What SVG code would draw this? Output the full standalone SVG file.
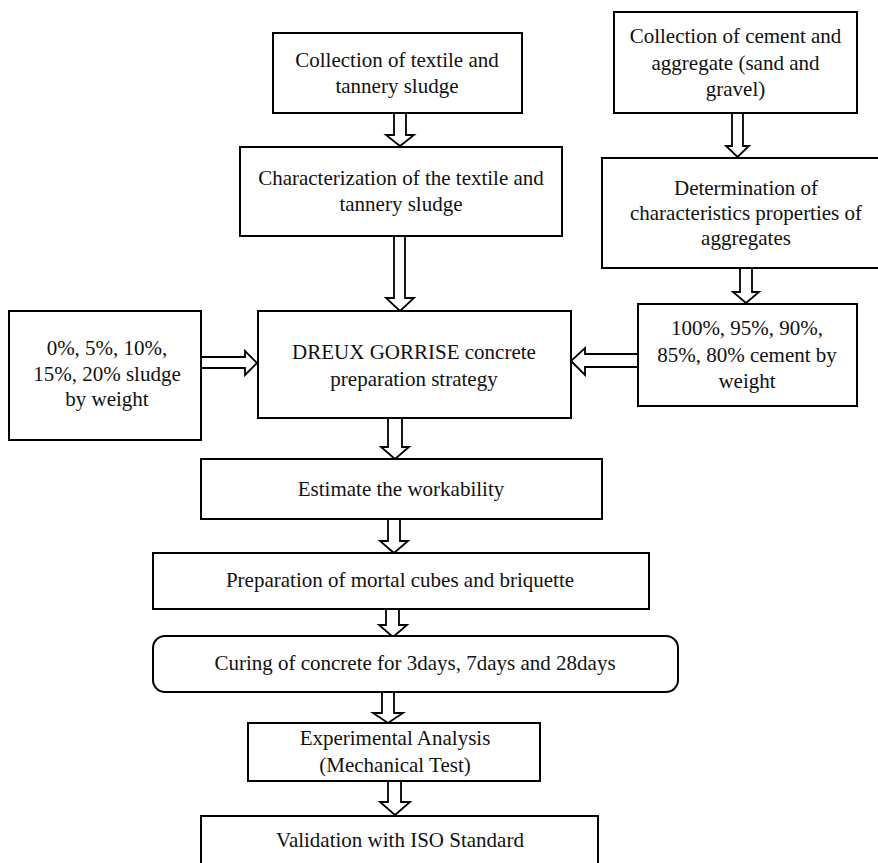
<svg xmlns="http://www.w3.org/2000/svg" width="878" height="863" viewBox="0 0 878 863">
<style>
  .box { fill: #fff; stroke: #000; stroke-width: 2; }
  .arr { fill: #fff; stroke: #000; stroke-width: 1.8; stroke-linejoin: miter; }
  text { font-family: "Liberation Serif", "Times New Roman", serif; font-size: 21px; fill: #111; text-anchor: middle; }
</style>
<rect x="0" y="0" width="878" height="863" fill="#fff"/>

<g id="connectors">
  <polygon class="arr" points="394,113 394,135 386,135 400,146 414,135 406,135 406,113"/>
  <polygon class="arr" points="732,113 732,146 726,146 737.5,157 749,146 743,146 743,113"/>
  <polygon class="arr" points="394,236 394,298 386,298 400,311 414,298 405,298 405,236"/>
  <polygon class="arr" points="740,268 740,292 733,292 746,303 759,292 752,292 752,268"/>
  <polygon class="arr" points="201,357 245,357 245,351 257,363 245,375 245,368 201,368"/>
  <polygon class="arr" points="638,354 585,354 585,348 571,361 585,375 585,367 638,367"/>
  <polygon class="arr" points="388,418 388,447 381,447 395,459 409,447 402,447 402,418"/>
  <polygon class="arr" points="388,519 388,541 380,541 394,553 408,541 400,541 400,519"/>
  <polygon class="arr" points="386,609 386,625 379,625 393,637 407,625 399,625 399,609"/>
  <polygon class="arr" points="382,692 382,713 373,713 388,723 403,713 394,713 394,692"/>
  <polygon class="arr" points="388,781 388,802 380,802 395,815 410,802 401,802 401,781"/>
</g>

<g id="n1">
  <rect class="box" x="273" y="33" width="249" height="80"/>
  <text x="397" y="67">Collection of textile and</text>
  <text x="397" y="93">tannery  sludge</text>
</g>

<g id="n2">
  <rect class="box" x="614" y="12" width="243" height="101"/>
  <text x="735.5" y="43">Collection of cement and</text>
  <text x="735.5" y="70">aggregate  (sand and</text>
  <text x="735.5" y="96">gravel)</text>
</g>

<g id="n3">
  <rect class="box" x="240" y="147" width="322" height="89"/>
  <text x="401" y="185">Characterization of the textile and</text>
  <text x="401" y="211">tannery  sludge</text>
</g>

<g id="n4">
  <rect class="box" x="602" y="158" width="290" height="110"/>
  <text x="746" y="195">Determination of</text>
  <text x="746" y="220">characteristics properties of</text>
  <text x="746" y="245">aggregates</text>
</g>

<g id="n5">
  <rect class="box" x="9" y="311" width="192" height="129"/>
  <text x="107" y="355">0%, 5%, 10%,</text>
  <text x="107" y="381">15%, 20% sludge</text>
  <text x="107" y="406">by  weight</text>
</g>

<g id="n6">
  <rect class="box" x="258" y="311" width="313" height="107"/>
  <text x="414" y="359">DREUX GORRISE concrete</text>
  <text x="414" y="386">preparation  strategy</text>
</g>

<g id="n7">
  <rect class="box" x="638" y="304" width="219" height="102"/>
  <text x="747" y="335">100%, 95%, 90%,</text>
  <text x="747" y="362">85%, 80% cement  by</text>
  <text x="747" y="388">weight</text>
</g>

<g id="n8">
  <rect class="box" x="201" y="459" width="401" height="60"/>
  <text x="401" y="496">Estimate the  workability</text>
</g>

<g id="n9">
  <rect class="box" x="153" y="553" width="496" height="56"/>
  <text x="400" y="587">Preparation of mortal cubes and briquette</text>
</g>

<g id="n10">
  <rect class="box" x="153" y="636" width="525" height="56" rx="12" ry="12"/>
  <text x="415" y="670">Curing of concrete for 3days,  7days and  28days</text>
</g>

<g id="n11">
  <rect class="box" x="248" y="723" width="292" height="58"/>
  <text x="395" y="745">Experimental  Analysis</text>
  <text x="395" y="772">(Mechanical  Test)</text>
</g>

<g id="n12">
  <rect class="box" x="201" y="816" width="397" height="70"/>
  <text x="400" y="847">Validation with  ISO Standard</text>
</g>
</svg>
